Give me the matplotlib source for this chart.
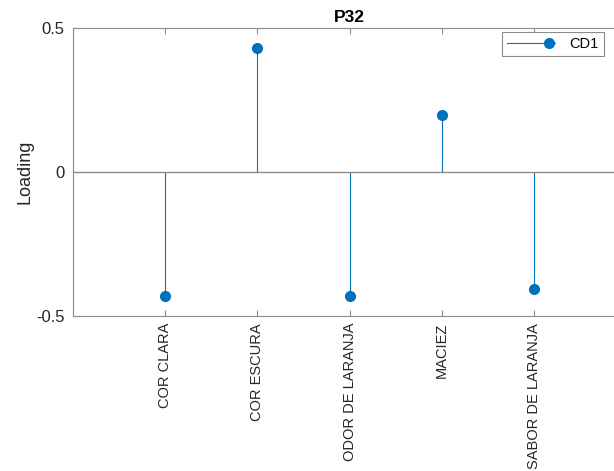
import numpy as np
import matplotlib.pyplot as plt
from matplotlib.lines import Line2D
from matplotlib.legend_handler import HandlerLine2D

plt.rcParams['font.family'] = ['Liberation Sans', 'DejaVu Sans']

categorias = ['COR CLARA', 'COR ESCURA', 'ODOR DE LARANJA', 'MACIEZ', 'SABOR DE LARANJA']
cargas = [-0.43, 0.43, -0.43, 0.198, -0.405]
serie = 'CD1'

cor = '#0072BD'
cinza = '#8c8c8c'


class HandlerPonta(HandlerLine2D):
    # marcador perto da ponta direita da linha, como no stem do MATLAB
    def create_artists(self, legend, orig_handle, xdescent, ydescent, width, height, fontsize, trans):
        arts = super().create_artists(legend, orig_handle, xdescent, ydescent, width, height, fontsize, trans)
        ln = arts[0]
        xd = np.asarray(ln.get_xdata(), dtype=float)
        yd = np.asarray(ln.get_ydata(), dtype=float)
        x0, x1 = xd[0], xd[-1]
        ln.set_data([x0, x0 + 0.88 * (x1 - x0), x1], [yd[0]] * 3)
        ln.set_markevery([1])
        return [ln]


fig = plt.figure(figsize=(6.14, 4.71), dpi=100)
ax = fig.add_axes([73/614, 155/471, 553/614, 288/471])

x = np.arange(1, len(categorias) + 1)
ml, sl, bl = ax.stem(x, cargas, linefmt='-', markerfmt='o', basefmt='-')
plt.setp(sl, color=cor, linewidth=0.8)
plt.setp(ml, color=cor, markersize=7)
plt.setp(bl, color=cinza, linewidth=1.0)
bl.set_xdata([0, 6])

ax.set_xlim(0, 6)
ax.set_ylim(-0.5, 0.5)
ax.set_yticks([-0.5, 0, 0.5])
ax.set_yticklabels(['-0.5', '0', '0.5'])
ax.set_xticks(x)
ax.set_xticklabels(categorias, rotation=90)

for s in ax.spines.values():
    s.set_color(cinza)
ax.spines['right'].set_visible(False)
ax.tick_params(axis='both', direction='in', colors=cinza, labelcolor='#262626', length=4)
ax.tick_params(axis='x', top=True, pad=5, labelsize=10.5)
ax.tick_params(axis='y', pad=6, labelsize=12)

ax.set_ylabel('Loading', fontsize=13, color='#262626')
ax.yaxis.set_label_coords(-0.072, 0.5)
ax.set_title('P32', fontsize=12.5, fontweight='bold', color='black', pad=4)

h = Line2D([0], [0], color=cor, linewidth=0.8, marker='o', markersize=7)
leg = ax.legend([h], [serie], loc='upper right', bbox_to_anchor=(604/614, 439/471),
                bbox_transform=fig.transFigure, fancybox=False, framealpha=1,
                edgecolor=cinza, fontsize=10.5, handlelength=3.3, numpoints=1,
                borderpad=0.35, borderaxespad=0, handletextpad=1.0,
                handler_map={Line2D: HandlerPonta()})
leg.get_frame().set_linewidth(0.8)

fig.savefig('out.png', dpi=100, facecolor='white')
